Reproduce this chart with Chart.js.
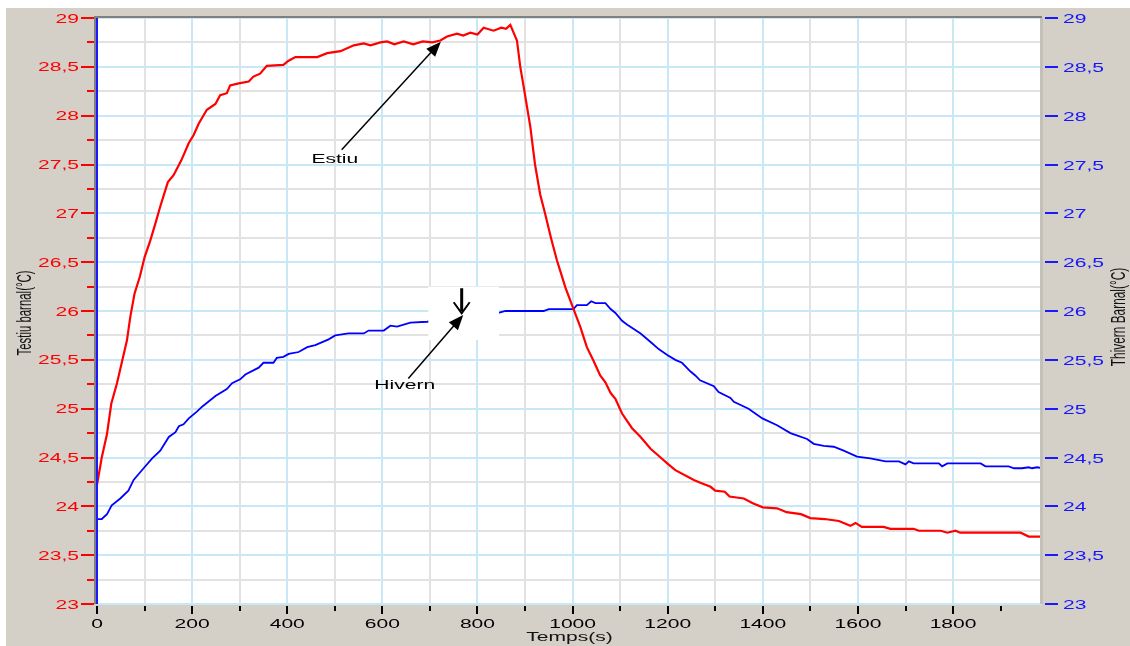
<!DOCTYPE html>
<html>
<head>
<meta charset="utf-8">
<script src="https://cdn.jsdelivr.net/npm/chart.js@4.4.1/dist/chart.umd.min.js"></script>
<style>
  html, body { margin: 0; padding: 0; background: #fff; }
  canvas { display: block; }
</style>
</head>
<body>
<canvas id="tempChart" width="1130" height="646"></canvas>
<script>
// Estiu (summer) barnal temperature, left axis
const estiuT = [0, 10, 21, 30, 42, 53, 63, 70, 79, 90, 100, 112, 123, 133, 149, 161, 177, 193, 203, 214,
  231, 249, 259, 273, 280, 298, 319, 329, 343, 357, 392, 402, 417, 463, 484, 512, 540, 561, 575, 596,
  610, 625, 645, 665, 685, 705, 722, 736, 757, 770, 785, 800, 813, 834, 850, 860, 869, 883, 890, 897,
  911, 921, 932, 942, 955, 967, 976, 985, 1002, 1016, 1030, 1044, 1058, 1069, 1080, 1090, 1104, 1125, 1143, 1164, 1185,
  1199, 1216, 1255, 1270, 1290, 1300, 1320, 1330, 1360, 1380, 1400, 1430, 1450, 1480, 1500, 1530, 1560, 1584, 1595, 1608,
  1654, 1668, 1717, 1728, 1774, 1788, 1805, 1815, 1942, 1959, 1987];
const estiuV = [24.22, 24.50, 24.74, 25.05, 25.26, 25.49, 25.70, 25.94, 26.18, 26.35, 26.55, 26.72, 26.90, 27.07, 27.32, 27.39, 27.54, 27.72, 27.80, 27.92,
  28.06, 28.12, 28.21, 28.23, 28.31, 28.33, 28.35, 28.40, 28.43, 28.51, 28.52, 28.56, 28.60, 28.60, 28.64, 28.66, 28.72, 28.74, 28.72, 28.75,
  28.76, 28.73, 28.76, 28.73, 28.76, 28.75, 28.77, 28.81, 28.84, 28.82, 28.85, 28.83, 28.90, 28.87, 28.90, 28.89, 28.93, 28.77, 28.50, 28.30,
  27.89, 27.50, 27.19, 27.00, 26.74, 26.52, 26.38, 26.24, 26.02, 25.84, 25.63, 25.49, 25.34, 25.27, 25.16, 25.10, 24.95, 24.80, 24.71, 24.59, 24.50,
  24.44, 24.37, 24.27, 24.24, 24.20, 24.16, 24.15, 24.10, 24.08, 24.03, 23.99, 23.98, 23.94, 23.92, 23.88, 23.87, 23.85, 23.80, 23.83, 23.79,
  23.79, 23.77, 23.77, 23.75, 23.75, 23.73, 23.75, 23.73, 23.73, 23.69, 23.69];

// Hivern (winter) barnal temperature, right axis
const hivernT = [0, 10, 21, 31, 49, 66, 77, 98, 116, 133, 151, 165, 172, 182, 193, 210, 221, 249, 273, 284,
  301, 312, 340, 350, 371, 378, 392, 403, 424, 442, 459, 487, 501, 529, 561, 571, 603, 617, 631, 659,
  694, 740, 800, 844, 859, 939, 950, 1002, 1009, 1030, 1039, 1048, 1069, 1080, 1090, 1104, 1115, 1143, 1167, 1181,
  1199, 1216, 1230, 1248, 1258, 1268, 1297, 1307, 1332, 1339, 1370, 1399, 1430, 1458, 1493, 1507, 1528, 1549, 1570, 1598,
  1626, 1658, 1686, 1700, 1707, 1717, 1770, 1777, 1788, 1858, 1868, 1917, 1928, 1945, 1959, 1966, 1977, 1987];
const hivernV = [23.87, 23.87, 23.92, 24.01, 24.08, 24.16, 24.27, 24.39, 24.49, 24.57, 24.71, 24.76, 24.82, 24.84, 24.90, 24.97, 25.02, 25.13, 25.20, 25.26,
  25.30, 25.35, 25.42, 25.47, 25.47, 25.52, 25.53, 25.56, 25.58, 25.63, 25.65, 25.71, 25.75, 25.77, 25.77, 25.80, 25.80, 25.85, 25.84, 25.88,
  25.89, 25.92, 25.95, 25.98, 26.00, 26.00, 26.02, 26.02, 26.06, 26.06, 26.10, 26.08, 26.08, 26.02, 25.98, 25.90, 25.86, 25.77, 25.67, 25.61,
  25.55, 25.50, 25.47, 25.38, 25.34, 25.29, 25.23, 25.17, 25.11, 25.07, 25.00, 24.90, 24.83, 24.75, 24.69, 24.64, 24.62, 24.61, 24.57, 24.51,
  24.49, 24.46, 24.46, 24.43, 24.46, 24.44, 24.44, 24.41, 24.44, 24.44, 24.41, 24.41, 24.39, 24.39, 24.40, 24.39, 24.40, 24.39];

// tick labels
const yTickValues = [23, 23.5, 24, 24.5, 25, 25.5, 26, 26.5, 27, 27.5, 28, 28.5, 29];
const yTickLabels = ['23', '23,5', '24', '24,5', '25', '25,5', '26', '26,5', '27', '27,5', '28', '28,5', '29'];
const xTickValues = [0, 200, 400, 600, 800, 1000, 1200, 1400, 1600, 1800];
const xTickLabels = ['0', '200', '400', '600', '800', '1000', '1200', '1400', '1600', '1800'];

// annotation anchors (data units: time, temperature)
const estiuNote = { text: 'Estiu', at: [500, 27.556], from: [514.5, 27.65], to: [723, 28.757] };
const hivernNote = { text: 'Hivern', at: [647, 25.243], from: [654.6, 25.31], to: [770, 25.96] };
const blankBox = [696.6, 26.249, 845.3, 25.703];
const downArrow = [766.8, 26.233, 25.977];

const FONT = '13px "Liberation Sans", Arial, sans-serif';
const STRETCH = 1.62;

function wideText(c, str, x, y, align, sx) {
  c.save();
  c.translate(x, y);
  c.scale(sx, 1);
  c.textAlign = align;
  c.fillText(str, 0, 0);
  c.restore();
}

function arrow(c, x1, y1, x2, y2) {
  const ang = Math.atan2(y2 - y1, x2 - x1);
  const len = 15, hw = 6;
  c.beginPath();
  c.moveTo(x1, y1);
  c.lineTo(x2 - Math.cos(ang) * len * 0.8, y2 - Math.sin(ang) * len * 0.8);
  c.stroke();
  c.beginPath();
  c.moveTo(x2, y2);
  c.lineTo(x2 - Math.cos(ang) * len + Math.sin(ang) * hw, y2 - Math.sin(ang) * len - Math.cos(ang) * hw);
  c.lineTo(x2 - Math.cos(ang) * len - Math.sin(ang) * hw, y2 - Math.sin(ang) * len + Math.cos(ang) * hw);
  c.closePath();
  c.fill();
}

const decor = {
  id: 'decor',
  beforeDraw(chart) {
    const c = chart.ctx, a = chart.chartArea;
    c.save();
    c.fillStyle = '#d4d0c8';
    c.fillRect(0, 0, chart.width, chart.height);
    c.fillStyle = '#ffffff';
    c.fillRect(0, 0, chart.width, 8);
    c.fillRect(0, 0, 6, chart.height);
    c.fillRect(a.left, a.top, a.right - a.left, a.bottom - a.top);
    c.restore();
  },
  afterDraw(chart) {
    const c = chart.ctx, a = chart.chartArea;
    const xs = chart.scales.x, ys = chart.scales.y, y2 = chart.scales.y2;
    const px = t => xs.getPixelForValue(t);
    const py = v => ys.getPixelForValue(v);
    c.save();

    // blank box and annotations
    c.fillStyle = '#ffffff';
    c.fillRect(px(blankBox[0]), py(blankBox[1]), px(blankBox[2]) - px(blankBox[0]), py(blankBox[3]) - py(blankBox[1]));

    c.strokeStyle = '#000';
    c.fillStyle = '#000';
    c.lineWidth = 1.5;
    [estiuNote, hivernNote].forEach(n => {
      arrow(c, px(n.from[0]), py(n.from[1]), px(n.to[0]), py(n.to[1]));
      c.font = FONT;
      c.textBaseline = 'middle';
      wideText(c, n.text, px(n.at[0]), py(n.at[1]), 'center', STRETCH);
    });

    // small down arrow
    const dx = px(downArrow[0]), dTop = py(downArrow[1]), dBot = py(downArrow[2]);
    c.lineWidth = 3;
    c.beginPath();
    c.moveTo(dx, dTop);
    c.lineTo(dx, dBot - 2);
    c.stroke();
    c.lineWidth = 2;
    c.beginPath();
    c.moveTo(dx - 8, dBot - 11);
    c.lineTo(dx, dBot);
    c.lineTo(dx + 8, dBot - 11);
    c.stroke();

    // frame
    c.fillStyle = '#808080';
    c.fillRect(a.left - 3, a.top - 2, a.right - a.left + 3, 2);
    c.fillRect(a.left - 3, a.top - 2, 2, a.bottom - a.top + 2);
    c.fillStyle = '#c4c0b8';
    c.fillRect(a.right - 2, a.top, 3, a.bottom - a.top);
    c.fillStyle = '#1a1aff';
    c.fillRect(px(0) - 1, a.top, 2, a.bottom - a.top);

    // left axis: red ticks and labels
    c.font = FONT;
    c.textBaseline = 'middle';
    c.strokeStyle = '#ff0000';
    c.fillStyle = '#ff0000';
    c.lineWidth = 2;
    for (let v = 23; v <= 29; v += 0.25) {
      const y = Math.round(py(v));
      const major = v % 0.5 === 0;
      c.beginPath();
      c.moveTo(major ? 81 : 87, y);
      c.lineTo(94, y);
      c.stroke();
    }
    yTickValues.forEach((v, i) => wideText(c, yTickLabels[i], 79, py(v) + 1, 'right', STRETCH));

    // right axis: blue ticks and labels
    c.strokeStyle = '#1a1aff';
    c.fillStyle = '#1414ff';
    yTickValues.forEach((v, i) => {
      const y = Math.round(y2.getPixelForValue(v));
      c.beginPath();
      c.moveTo(a.right + 3, y);
      c.lineTo(a.right + 16, y);
      c.stroke();
      wideText(c, yTickLabels[i], a.right + 21, y + 1, 'left', STRETCH);
    });

    // x axis: black ticks and labels
    c.strokeStyle = '#000';
    c.fillStyle = '#000';
    for (let t = 0; t <= 1987; t += 100) {
      const x = Math.round(px(t));
      const major = t % 200 === 0;
      c.beginPath();
      c.moveTo(x, a.bottom + 2);
      c.lineTo(x, a.bottom + (major ? 10 : 7));
      c.stroke();
    }
    xTickValues.forEach((t, i) => wideText(c, xTickLabels[i], px(t), a.bottom + 20, 'center', STRETCH));

    // axis titles
    c.fillStyle = '#111';
    wideText(c, 'Temps(s)', (a.left + a.right) / 2, a.bottom + 33, 'center', STRETCH);
    c.textBaseline = 'alphabetic';
    c.textAlign = 'center';
    const midY = (a.top + a.bottom) / 2;
    c.save();
    c.font = '12px "Liberation Sans", Arial, sans-serif';
    c.translate(31, midY + 2);
    c.rotate(-Math.PI / 2);
    c.scale(0.95, STRETCH);
    c.fillText('Testiu barnal(°C)', 0, 0);
    c.restore();
    c.save();
    c.font = '12.5px "Liberation Sans", Arial, sans-serif';
    c.translate(1125, midY + 6);
    c.rotate(-Math.PI / 2);
    c.scale(0.95, STRETCH);
    c.fillText('Thivern Barnal(°C)', 0, 0);
    c.restore();

    c.restore();
  }
};

const lightBlue = '#c8e8f8';
const lightGray = '#e2e2e2';

const ctx = document.getElementById('tempChart').getContext('2d');
const chart = new Chart(ctx, {
  type: 'line',
  data: {
    datasets: [
      {
        label: 'Estiu',
        data: estiuT.map((t, i) => ({ x: t, y: estiuV[i] })),
        borderColor: '#ff0000',
        borderWidth: 2.2,
        pointRadius: 0,
        tension: 0,
        yAxisID: 'y'
      },
      {
        label: 'Hivern',
        data: hivernT.map((t, i) => ({ x: t, y: hivernV[i] })),
        borderColor: '#0000ff',
        borderWidth: 1.8,
        pointRadius: 0,
        tension: 0,
        yAxisID: 'y2'
      }
    ]
  },
  options: {
    responsive: false,
    animation: false,
    layout: { padding: { top: 18, left: 0, right: 0, bottom: 0 } },
    plugins: { legend: { display: false }, tooltip: { enabled: false } },
    scales: {
      x: {
        type: 'linear',
        min: 0,
        max: 1987,
        ticks: { stepSize: 100, display: false },
        grid: {
          drawTicks: false,
          lineWidth: 2,
          color: c => (c.tick && c.tick.value % 200 === 0) ? lightBlue : lightGray
        },
        border: { display: false },
        afterFit: s => { s.height = 42; }
      },
      y: {
        position: 'left',
        min: 23,
        max: 29,
        ticks: { stepSize: 0.25, display: false },
        grid: {
          drawTicks: false,
          lineWidth: 2,
          color: c => (c.tick && c.tick.value % 0.5 === 0) ? lightBlue : lightGray
        },
        border: { display: false },
        afterFit: s => { s.width = 97; }
      },
      y2: {
        position: 'right',
        min: 23,
        max: 29,
        ticks: { stepSize: 0.5, display: false },
        grid: { display: false, drawTicks: false },
        border: { display: false },
        afterFit: s => { s.width = 88; }
      }
    }
  },
  plugins: [decor]
});
</script>
</body>
</html>
